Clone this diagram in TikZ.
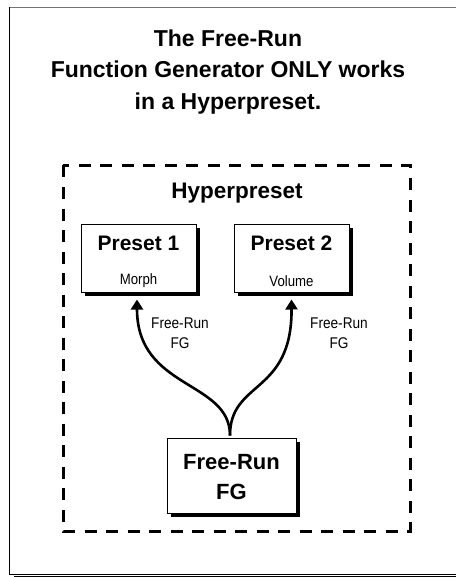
\documentclass[tikz,border=0pt]{standalone}
\usepackage{fontspec}
\setmainfont{Liberation Sans}
\newfontfamily\condfont[FakeStretch=0.88]{Liberation Sans}
\usetikzlibrary{arrows.meta}
\tikzset{
  boxnode/.style={draw=black, line width=1pt, fill=white, inner sep=0pt},
  shadownode/.style={fill=black, inner sep=0pt, draw=none},
  conn/.style={line width=2.6pt, -{Triangle[width=12pt,length=10pt]}},
  bigtxt/.style={font=\bfseries\fontsize{21}{26}\selectfont, inner sep=0pt},
  smalltxt/.style={font=\condfont\fontsize{15}{20}\selectfont, inner sep=0pt},
  lbltxt/.style={font=\condfont\fontsize{15.5}{20}\selectfont, align=center, inner sep=0pt},
}
\begin{document}
\begin{tikzpicture}[x=1pt,y=-1pt]
\useasboundingbox (0,0) rectangle (456,577);
% outer frame
\draw[line width=1.5pt, black!55] (9,7.5) -- (456,7.5);
\draw[line width=1.3pt] (9.6,7) -- (9.6,574.6);
\draw[line width=1pt] (9,574.6) -- (456,574.6);
\fill (14,575.6) rectangle (456,577);
% title
\node[align=center, font=\bfseries\fontsize{23}{31.5}\selectfont, inner sep=0pt] (title) at (228,72) {The Free-Run\\Function Generator ONLY works\\in a Hyperpreset.};
% dashed hyperpreset region
\draw[line width=3pt, dash pattern=on 12pt off 9.5pt] (63,165.5) rectangle (410,531);
\node[font=\bfseries\fontsize{22.5}{26}\selectfont, inner sep=0pt] (hyp) at (237,193) {Hyperpreset};
% preset boxes
\node[shadownode, minimum width=115pt, minimum height=68pt] at (142.5,262) {};
\node[boxnode, minimum width=115pt, minimum height=68pt] (p1) at (138.5,258) {};
\node[bigtxt] (p1t) at (138.5,243) {Preset 1};
\node[smalltxt] (p1s) at (138.5,281) {Morph};
\node[shadownode, minimum width=115pt, minimum height=68pt] at (295.5,262) {};
\node[boxnode, minimum width=115pt, minimum height=68pt] (p2) at (291.5,258) {};
\node[bigtxt] (p2t) at (291.5,243) {Preset 2};
\node[smalltxt] (p2s) at (291.5,281) {Volume};
% FG box
\node[shadownode, minimum width=129pt, minimum height=75pt] at (235.5,479.5) {};
\node[boxnode, minimum width=129pt, minimum height=75pt] (fg) at (231.5,475.5) {};
\node[font=\bfseries\fontsize{22}{30}\selectfont, align=center, inner sep=0pt] (fgt) at (231.5,477) {Free-Run\\FG};
% connectors
\coordinate (a1) at ([xshift=-1.5pt,yshift=-7pt]p1.south);
\coordinate (a2) at ([yshift=-7pt]p2.south);
\coordinate (s) at ([xshift=-1.5pt,yshift=2pt]fg.north);
\draw[conn] (s) .. controls (230,380) and (137,390) .. (a1);
\draw[conn] (s) .. controls (230,380) and (292,395) .. (a2);
% labels
\node[lbltxt] (l1) at (180,333) {Free-Run\\FG};
\node[lbltxt] (l2) at (339,333) {Free-Run\\FG};
\end{tikzpicture}
\end{document}
